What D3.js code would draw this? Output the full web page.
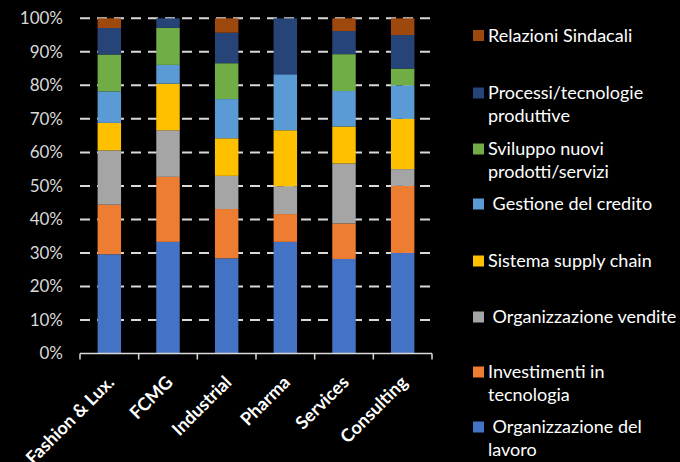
<!DOCTYPE html>
<html>
<head>
<meta charset="utf-8">
<script src="https://cdn.jsdelivr.net/npm/d3@7"></script>
<style>
  html, body { margin: 0; padding: 0; background: #000; }
  svg { display: block; }
</style>
</head>
<body>
<svg id="chart" width="680" height="462"></svg>
<script>
// Sectors shown along the x axis
const categories = ["Fashion & Lux.", "FCMG", "Industrial", "Pharma", "Services", "Consulting"];

// Series, bottom of the stack to top (share of answers, %)
const seriesNames = [
  "Organizzazione del lavoro",
  "Investimenti in tecnologia",
  "Organizzazione vendite",
  "Sistema supply chain",
  "Gestione del credito",
  "Sviluppo nuovi prodotti/servizi",
  "Processi/tecnologie produttive",
  "Relazioni Sindacali"
];
const organizzazioneLavoro   = [29.6, 33.3, 28.4, 33.3, 28.2, 30.0];
const investimentiTecnologia = [14.8, 19.4, 14.7,  8.3, 10.6, 20.0];
const organizzazioneVendite  = [16.2, 13.9,  9.9,  8.3, 17.9,  5.0];
const sistemaSupplyChain     = [ 8.2, 13.9, 11.2, 16.7, 11.0, 15.0];
const gestioneCredito        = [ 9.4,  5.6, 11.7, 16.7, 10.6, 10.0];
const sviluppoProdotti       = [11.0, 11.1, 10.7,  0.0, 11.0,  5.0];
const processiTecnologie     = [ 7.9,  2.8,  9.1, 16.7,  6.9, 10.0];
const relazioniSindacali     = [ 2.9,  0.0,  4.3,  0.0,  3.8,  5.0];

const yTicks = [0, 10, 20, 30, 40, 50, 60, 70, 80, 90, 100];

const seriesValues = [
  organizzazioneLavoro, investimentiTecnologia, organizzazioneVendite, sistemaSupplyChain,
  gestioneCredito, sviluppoProdotti, processiTecnologie, relazioniSindacali
];
const colors = ["#4472C4", "#ED7D31", "#A5A5A5", "#FFC000", "#5B9BD5", "#70AD47", "#264478", "#9E480E"];

// Legend entries, top to bottom, with their line breaks
const legendItems = [
  { s: 7, lines: ["Relazioni Sindacali"] },
  { s: 6, lines: ["Processi/tecnologie", "produttive"] },
  { s: 5, lines: ["Sviluppo nuovi", "prodotti/servizi"] },
  { s: 4, lines: ["\u00a0Gestione del credito"] },
  { s: 3, lines: ["Sistema supply chain"] },
  { s: 2, lines: ["\u00a0Organizzazione vendite"] },
  { s: 1, lines: ["Investimenti in", "tecnologia"] },
  { s: 0, lines: ["\u00a0Organizzazione del", "lavoro"] }
];
const legendY = [35.5, 93, 149, 204, 261, 317, 372, 427];

const rows = categories.map((c, i) => {
  const r = { category: c };
  seriesNames.forEach((n, k) => { r[n] = seriesValues[k][i]; });
  return r;
});
const stacked = d3.stack().keys(seriesNames).offset(d3.stackOffsetExpand)(rows);

const svg = d3.select("#chart");
const margin = { left: 80, right: 248, top: 18.3, bottom: 108.5 };
const W = 680, H = 462;

const x = d3.scaleBand().domain(categories).range([margin.left, W - margin.right])
  .paddingInner(0.6).paddingOuter(0.3);
const y = d3.scaleLinear().domain([0, 1]).range([H - margin.bottom, margin.top]);

const font = "Lato, 'Open Sans', sans-serif";

// Dashed gridlines
svg.append("g")
  .selectAll("line")
  .data(yTicks.filter(t => t > 0))
  .join("line")
  .attr("x1", margin.left).attr("x2", W - margin.right)
  .attr("y1", d => y(d / 100)).attr("y2", d => y(d / 100))
  .attr("stroke", "#d9d9d9")
  .attr("stroke-width", 2)
  .attr("stroke-dasharray", "10,7");

// Stacked bars
svg.append("g")
  .selectAll("g")
  .data(stacked)
  .join("g")
  .attr("fill", (d, i) => colors[i])
  .selectAll("rect")
  .data(d => d)
  .join("rect")
  .attr("x", d => x(d.data.category))
  .attr("width", x.bandwidth())
  .attr("y", d => y(d[1]))
  .attr("height", d => y(d[0]) - y(d[1]));

// Y axis labels
const yAxis = d3.axisLeft(y)
  .tickValues(yTicks.map(t => t / 100))
  .tickFormat(d => Math.round(d * 100) + "%")
  .tickSize(0).tickPadding(17);
const gy = svg.append("g").attr("transform", `translate(${margin.left},0)`).call(yAxis);
gy.select(".domain").remove();
gy.selectAll("text")
  .attr("fill", "#d9d9d9")
  .style("font-family", font)
  .style("font-size", "17px");

// X axis with ticks at band boundaries
const xAxis = d3.axisBottom(x).tickSize(0).tickPadding(0);
const gx = svg.append("g").attr("transform", `translate(0,${y(0)})`).call(xAxis);
gx.select(".domain").attr("stroke", "#d9d9d9").attr("stroke-width", 1.5)
  .attr("d", `M${margin.left},0H${W - margin.right}`);
const boundaries = d3.range(categories.length + 1).map(i => margin.left + i * (W - margin.left - margin.right) / categories.length);
gx.selectAll(".bound")
  .data(boundaries)
  .join("line")
  .attr("class", "bound")
  .attr("x1", d => d).attr("x2", d => d)
  .attr("y1", 0).attr("y2", 6)
  .attr("stroke", "#d9d9d9").attr("stroke-width", 1.5);
gx.selectAll(".tick text")
  .attr("fill", "#ffffff")
  .style("font-family", font)
  .style("font-size", "18px")
  .style("font-weight", "bold")
  .attr("text-anchor", "end")
  .attr("transform", "translate(6,30) rotate(-45)")
  .attr("dy", 0)
  .attr("y", 0)
  .attr("x", 0);

// Legend
const lg = svg.append("g");
legendItems.forEach((item, i) => {
  const cy = legendY[i];
  lg.append("rect")
    .attr("x", 473).attr("y", cy - 5.5)
    .attr("width", 11).attr("height", 11)
    .attr("fill", colors[item.s]);
  const t = lg.append("text")
    .attr("fill", "#ffffff")
    .style("font-family", font)
    .style("font-size", "18px");
  item.lines.forEach((ln, j) => {
    t.append("tspan")
      .attr("x", 488)
      .attr("y", cy + j * 23)
      .attr("dy", "0.35em")
      .text(ln);
  });
});
</script>
</body>
</html>
